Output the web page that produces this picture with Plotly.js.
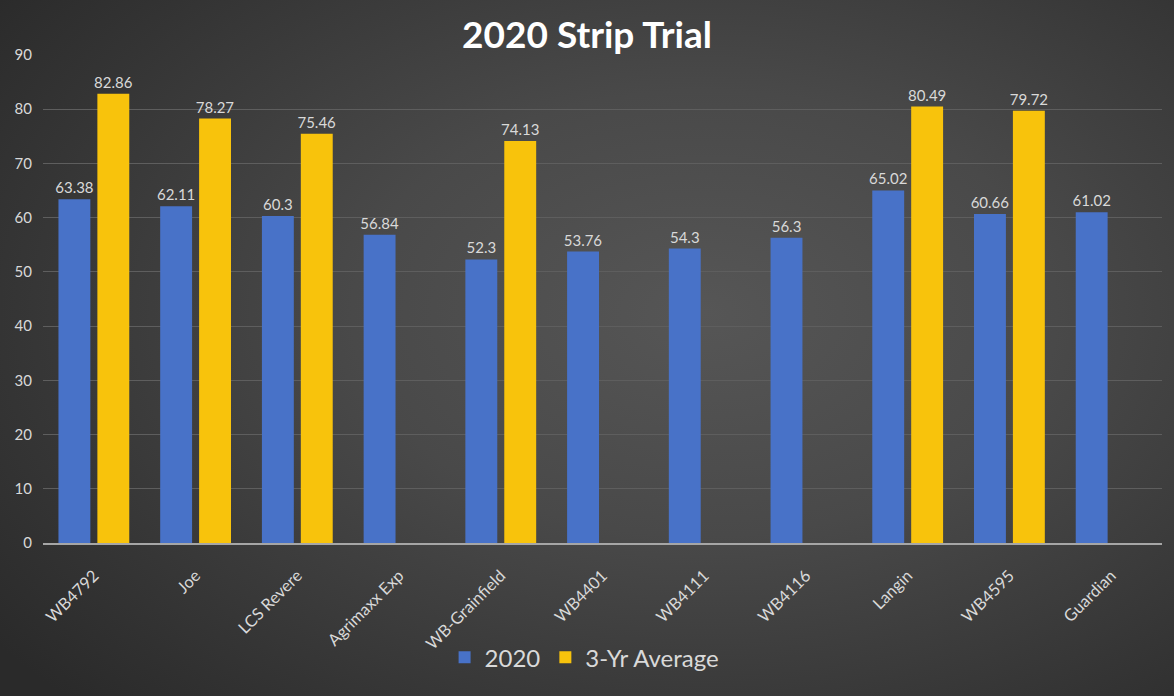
<!DOCTYPE html>
<html>
<head>
<meta charset="utf-8">
<script src="https://cdn.plot.ly/plotly-3.0.1.min.js"></script>
<style>
html,body{margin:0;padding:0;}
#chart{width:1174px;height:696px;background:radial-gradient(ellipse 75% 80% at 60% 45%, #565656 0%, #494949 40%, #343434 80%, #2a2a2a 100%);}
</style>
</head>
<body>
<div id="chart"></div>
<script>
const categories = ["WB4792","Joe","LCS Revere","Agrimaxx Exp","WB-Grainfield","WB4401","WB4111","WB4116","Langin","WB4595","Guardian"];
const values2020 = [63.38,62.11,60.3,56.84,52.3,53.76,54.3,56.3,65.02,60.66,61.02];
const valuesAvg = [82.86,78.27,75.46,null,74.13,null,null,null,80.49,79.72,null];
const seriesNames = ["2020","3-Yr Average"];

const FONT = "Lato, 'Open Sans', sans-serif";
const labelFont = {family:FONT, size:15, color:"#d9d9d9"};

const traces = [
  {type:"bar", name:seriesNames[0], x:categories, y:values2020,
   marker:{color:"#4872c8"}, constraintext:"none",
   text:values2020.map(v=>v==null?"":String(v)), textposition:"outside", textfont:labelFont, cliponaxis:false, hoverinfo:"x+y"},
  {type:"bar", name:seriesNames[1], x:categories, y:valuesAvg,
   marker:{color:"#f8c30c"}, constraintext:"none",
   text:valuesAvg.map(v=>v==null?"":String(v)), textposition:"outside", textfont:labelFont, cliponaxis:false, hoverinfo:"x+y"}
];

const layout = {
  width:1174, height:696,
  paper_bgcolor:"rgba(0,0,0,0)", plot_bgcolor:"rgba(0,0,0,0)",
  margin:{l:43, r:12, t:55, b:153},
  title:{text:"<b>2020 Strip Trial</b>", x:0.5, xanchor:"center", y:0.95, yanchor:"middle",
         font:{family:FONT, size:37, color:"#ffffff"}},
  barmode:"group", bargap:0.235, bargroupgap:0.18,
  xaxis:{tickangle:-45, tickfont:{family:FONT, size:16.5, color:"#d9d9d9"},
         showgrid:false, showline:true, linecolor:"#a6a6a6", linewidth:1.5, ticks:"", ticklabelstandoff:15, automargin:false},
  yaxis:{range:[0,90], dtick:10, tickfont:{family:FONT, size:15, color:"#d9d9d9"},
         gridcolor:"#5e5e5e", gridwidth:1, zeroline:false, showline:false, ticks:"", ticklabelstandoff:10, automargin:false},
  showlegend:true,
  legend:{orientation:"h", x:0.484, xanchor:"center", y:-0.235, yanchor:"middle",
          font:{family:FONT, size:24, color:"#d9d9d9"}, itemwidth:30}
};

Plotly.newPlot("chart", traces, layout, {displayModeBar:false, staticPlot:true});
</script>
</body>
</html>
